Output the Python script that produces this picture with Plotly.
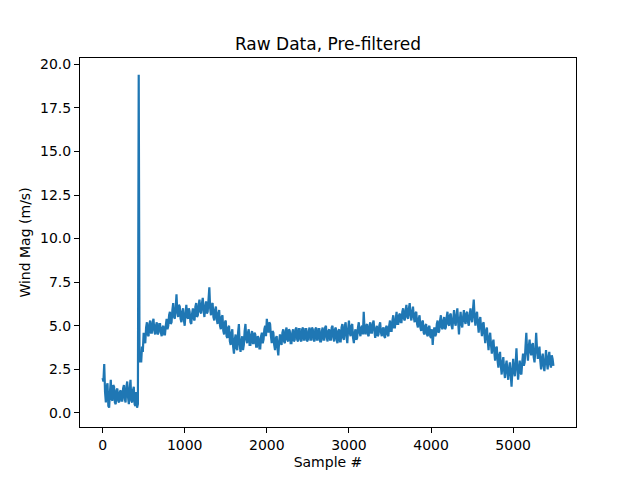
import numpy as np
import plotly.graph_objects as go

# Raw wind magnitude, every 10 samples
sample_step = 10
wind_mag = [
    2.0, 1.8, 2.8, 1.2, 0.6, 1.5, 1.7, 0.4, 0.3, 1.2, 1.9, 0.8, 0.7, 1.6, 1.5, 0.6, 0.5, 1.3, 1.4, 0.7,
    0.6, 1.2, 1.3, 0.7, 0.7, 1.4, 1.6, 0.8, 0.6, 1.5, 1.8, 0.9, 0.5, 1.4, 1.9, 0.7, 0.6, 1.3, 1.5, 0.5,
    0.4, 1.2, 0.3, 0.5, 19.4, 2.9, 3.3, 2.9, 3.8, 3.5, 4.6, 4.2, 4.0, 4.9, 5.2, 4.5, 4.4, 5.1, 5.3, 4.6,
    4.6, 5.2, 5.4, 4.7, 4.5, 5.0, 5.2, 4.5, 4.6, 5.1, 5.1, 4.6, 4.4, 4.9, 5.0, 4.5, 4.5, 5.0, 5.4, 4.8,
    5.0, 5.6, 5.8, 5.1, 5.2, 5.9, 6.3, 5.5, 5.4, 6.0, 6.8, 5.8, 5.5, 6.2, 6.1, 5.4, 5.2, 5.8, 6.0, 5.3,
    5.0, 5.7, 6.2, 5.5, 5.4, 6.0, 5.8, 5.2, 5.1, 5.7, 6.0, 5.4, 5.3, 6.1, 6.3, 5.5, 5.6, 6.2, 6.5, 5.8,
    5.7, 6.3, 6.6, 5.9, 5.5, 6.1, 6.4, 5.7, 5.8, 6.5, 7.2, 6.0, 5.6, 6.2, 6.3, 5.5, 5.3, 5.9, 6.1, 5.4,
    5.1, 5.7, 5.9, 5.0, 4.8, 5.5, 5.6, 4.7, 4.5, 5.2, 5.3, 4.4, 4.3, 4.9, 5.0, 4.1, 3.9, 4.6, 4.8, 3.8,
    3.4, 4.2, 4.5, 3.7, 3.6, 4.6, 5.1, 3.9, 3.5, 4.1, 4.4, 3.6, 3.9, 4.7, 5.1, 4.2, 4.0, 4.6, 4.8, 3.9,
    3.9, 4.5, 4.7, 4.0, 4.0, 4.6, 4.5, 3.8, 3.8, 4.4, 4.3, 3.7, 3.7, 4.4, 4.6, 4.0, 4.2, 4.8, 5.0, 4.4,
    5.4, 4.9, 4.6, 5.2, 5.1, 4.4, 4.0, 4.7, 4.6, 3.9, 3.6, 4.3, 4.4, 3.7, 3.3, 4.1, 4.5, 4.0, 3.9, 4.6,
    4.8, 4.1, 4.0, 4.7, 4.9, 4.2, 4.1, 4.8, 4.7, 4.0, 4.0, 4.6, 4.8, 4.1, 4.2, 4.8, 4.9, 4.2, 4.1, 4.8,
    4.8, 4.2, 4.1, 4.8, 4.9, 4.2, 4.2, 4.8, 4.8, 4.1, 4.2, 4.7, 4.9, 4.2, 4.2, 4.9, 4.8, 4.2, 4.1, 4.8,
    4.9, 4.2, 4.2, 4.8, 4.8, 4.1, 4.1, 4.7, 4.9, 4.2, 4.2, 4.9, 5.0, 4.3, 4.1, 4.7, 4.8, 4.2, 4.2, 4.9,
    5.0, 4.3, 4.1, 4.8, 4.9, 4.2, 4.0, 4.7, 4.8, 4.1, 4.1, 4.9, 5.1, 4.3, 4.2, 5.0, 5.2, 4.4, 4.0, 4.8,
    5.3, 4.6, 4.4, 5.0, 5.1, 4.3, 4.0, 4.6, 4.8, 4.2, 4.3, 4.9, 5.2, 4.6, 4.4, 4.9, 5.0, 4.5, 5.8, 4.8,
    4.5, 5.0, 5.1, 4.5, 4.4, 5.0, 5.2, 4.6, 4.6, 5.1, 5.3, 4.7, 4.3, 4.8, 5.0, 4.4, 4.5, 5.0, 5.2, 4.6,
    4.4, 4.8, 4.9, 4.4, 4.3, 4.9, 5.0, 4.5, 4.4, 5.0, 5.3, 4.7, 4.7, 5.3, 5.6, 4.9, 4.9, 5.4, 5.8, 5.1,
    5.1, 5.6, 5.7, 5.2, 5.2, 5.8, 6.0, 5.4, 5.3, 5.9, 6.2, 5.5, 5.4, 6.0, 6.3, 5.6, 5.3, 5.8, 6.1, 5.5,
    5.2, 5.7, 5.8, 5.1, 4.9, 5.4, 5.6, 4.9, 4.7, 5.2, 5.3, 4.6, 4.5, 5.0, 5.1, 4.5, 4.4, 4.9, 5.0, 4.4,
    4.3, 4.8, 3.9, 4.6, 4.9, 4.4, 4.5, 5.1, 5.3, 4.6, 4.7, 5.3, 5.6, 4.9, 4.8, 5.3, 5.5, 4.8, 4.9, 5.5,
    5.8, 5.1, 5.0, 5.6, 5.7, 5.0, 4.8, 5.4, 5.9, 5.2, 5.0, 5.6, 6.0, 5.2, 4.5, 5.3, 5.8, 5.1, 4.9, 5.5,
    5.9, 5.3, 5.1, 5.7, 5.8, 5.2, 5.0, 5.6, 6.0, 5.4, 5.2, 5.9, 6.5, 5.5, 5.0, 5.6, 5.8, 5.1, 4.6, 5.3,
    5.5, 4.8, 4.4, 5.1, 5.2, 4.5, 4.0, 4.7, 4.9, 4.2, 3.6, 4.3, 4.6, 3.9, 3.4, 4.0, 4.2, 3.5, 3.0, 3.7,
    3.8, 3.0, 2.6, 3.3, 3.5, 2.7, 2.2, 2.9, 3.2, 2.4, 2.0, 2.7, 3.0, 2.3, 1.9, 2.6, 2.9, 2.2, 1.5, 2.4,
    3.1, 2.4, 2.1, 2.8, 3.7, 2.6, 1.9, 2.5, 3.0, 2.3, 2.2, 2.9, 3.4, 2.7, 2.9, 3.8, 4.6, 3.5, 3.0, 3.8,
    4.2, 3.5, 3.3, 3.9, 4.0, 3.2, 2.9, 3.6, 4.6, 3.7, 3.1, 3.5, 3.8, 3.0, 2.5, 3.1, 3.4, 2.7, 2.4, 3.0,
    3.6, 2.9, 2.5, 3.2, 3.5, 2.8, 2.6, 3.3, 3.1, 2.7,
]
samples = np.arange(len(wind_mag)) * sample_step

x_ticks = [0, 1000, 2000, 3000, 4000, 5000]
y_ticks = [0.0, 2.5, 5.0, 7.5, 10.0, 12.5, 15.0, 17.5, 20.0]

fig = go.Figure()
fig.add_trace(go.Scatter(
    x=samples,
    y=wind_mag,
    mode="lines",
    line=dict(color="#1f77b4", width=2.2, simplify=False),
    name="Wind Mag",
))

axis_style = dict(
    showline=True, linecolor="black", linewidth=1, mirror=True,
    ticks="outside", ticklen=5, tickcolor="black",
    showgrid=False, zeroline=False, automargin=False,
    tickfont=dict(size=14, color="black"),
)
fig.update_xaxes(
    range=[-275, 5765], tickvals=x_ticks,
    title=dict(text="Sample #", font=dict(size=14, color="black"), standoff=5),
    **axis_style,
)
fig.update_yaxes(
    range=[-0.81, 20.36], tickvals=y_ticks, tickformat=".1f",
    title=dict(text="Wind Mag (m/s)", font=dict(size=14, color="black"), standoff=6),
    **axis_style,
)
fig.update_layout(
    width=640, height=480,
    margin=dict(l=80, r=64, t=58, b=53),
    paper_bgcolor="white", plot_bgcolor="white",
    font=dict(family="DejaVu Sans", color="black"),
    showlegend=False,
    title=dict(
        text="Raw Data, Pre-filtered", x=0.5, xref="paper", xanchor="center",
        y=1, yref="paper", yanchor="bottom", pad=dict(b=8),
        font=dict(size=17, color="black"),
    ),
)
# drop the default page margin so the figure sits at the window's corner
fig.write_html(
    "out.html",
    config={"displayModeBar": False},
    post_script="document.body.style.margin='0';",
)
